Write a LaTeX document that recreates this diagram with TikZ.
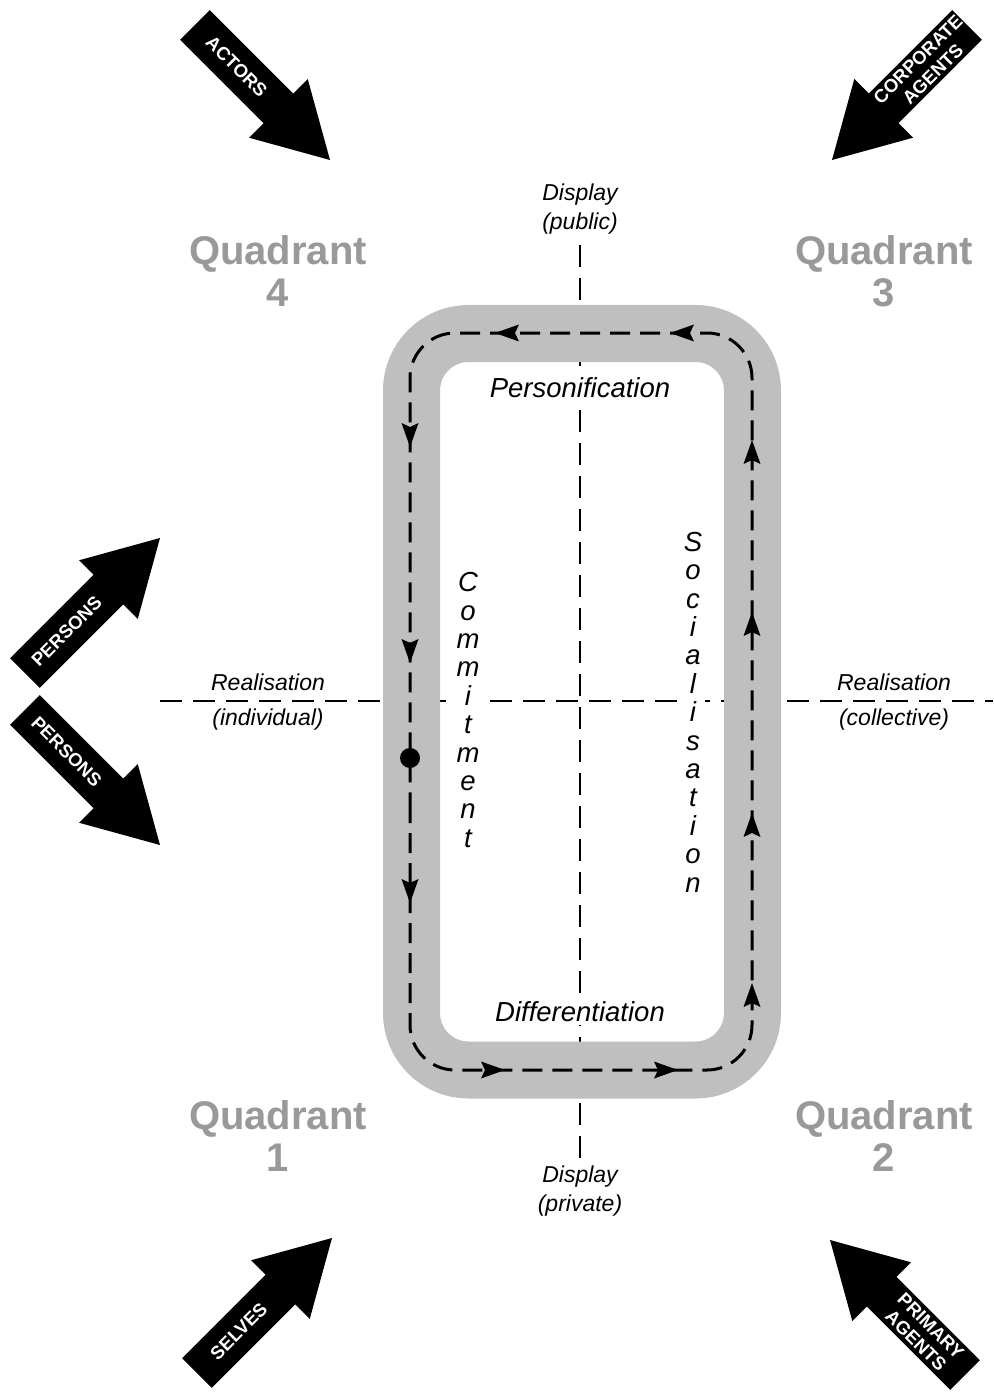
\documentclass[tikz,border=0pt]{standalone}
\usepackage{fontspec}
\setmainfont{Liberation Sans}
\begin{document}
\begin{tikzpicture}[
    x=1pt, y=-1pt,
    axis/.style={line width=2.5pt, dash pattern=on 22pt off 11pt},
    band/.style={line width=57pt, black!25, rounded corners=57pt},
    loopline/.style={line width=3pt, dash pattern=on 20pt off 10pt, rounded corners=45pt},
    quad/.style={font=\fontsize{40}{42}\selectfont\bfseries, text=black!40, align=center},
    axlabel/.style={font=\fontsize{23}{29}\selectfont\itshape, align=center},
    phase/.style={font=\fontsize{27.5}{28.4}\selectfont\itshape, fill=white, inner sep=3pt, align=center},
    agent/.style={font=\fontsize{18.5}{21}\selectfont\bfseries, text=white, align=center, inner sep=0pt},
  ]
    \useasboundingbox (0,0) rectangle (993,1396);
    %% Axes
    \draw[axis] (580,245) -- (580,1165);
    \draw[axis] (160,701) -- (993,701);
    %% Axis labels
    \node[axlabel] (pub) at (580,209) {Display\\(public)};
    \node[axlabel] (priv) at (580,1191) {Display\\(private)};
    \node[axlabel] (indiv) at (268,702) {Realisation\\[6pt](individual)};
    \node[axlabel] (coll) at (894,702) {Realisation\\[6pt](collective)};
    %% Quadrants
    \node[quad] (q4) at (278,271) {Quadrant\\4};
    \node[quad] (q3) at (884,271) {Quadrant\\3};
    \node[quad] (q1) at (278,1136) {Quadrant\\1};
    \node[quad] (q2) at (884,1136) {Quadrant\\2};
    %% Grey band and the cycle on it
    \draw[band] (411.5,333.5) rectangle (752.5,1070);
    \draw[loopline] (410,758) -- (410,1070) -- (752,1070) -- (752,333) -- (410,333) -- cycle;
    \foreach \x/\y/\a in {410/447/-90, 410/663/-90, 410/903/-90, 505/1070/0, 678/1070/0,
                          752/983/90, 752/813/90, 752/612/90, 752/440/90, 670/333/180, 495/333/180}
      \fill[shift={(\x,\y)}, rotate=\a] (0,0) -- (-24,8.5) -- (-20,0) -- (-24,-8.5) -- cycle;
    \fill (410,758) circle[radius=10pt];
    %% Phases
    \node[phase] (pers) at (580,388) {Personification};
    \node[phase] (diff) at (580,1012) {Differentiation};
    \node[phase] (comm) at (468,710) {C\\o\\m\\m\\i\\t\\m\\e\\n\\t};
    \node[phase] (soc) at (693,712) {S\\o\\c\\i\\a\\l\\i\\s\\a\\t\\i\\o\\n};
    %% Agent arrows: tip, direction, text angle
    \foreach \nm/\tx/\ty/\ang/\tang/\lab in {
        actors/330/160/-45/-45/{ACTORS},
        corp/832/160/-135/45/{CORPORATE\\AGENTS},
        persup/160/538/45/45/{PERSONS},
        persdown/160/845/-45/-45/{PERSONS},
        selves/332/1238/45/45/{SELVES},
        prim/830/1240/135/-45/{PRIMARY\\AGENTS}}
    {
      \begin{scope}[shift={(\tx,\ty)}, rotate=\ang]
        \fill (0,0) -- (-73,41.5) -- (-73,21) -- (-191,21) -- (-191,-21) -- (-73,-21) -- (-73,-41.5) -- cycle;
        \node[agent, rotate=\tang] (\nm) at (-132,0) {\lab};
      \end{scope}
    }
  \end{tikzpicture}
\end{document}
